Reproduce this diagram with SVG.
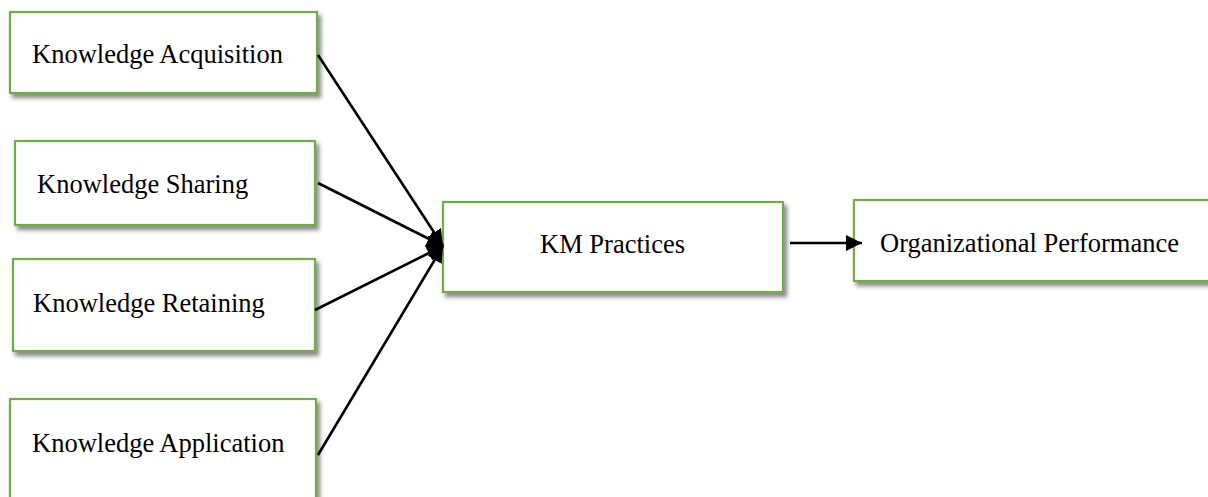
<svg xmlns="http://www.w3.org/2000/svg" width="1208" height="497" viewBox="0 0 1208 497">
<style>
.box{fill:#fff;stroke:#70AD47;stroke-width:2.2;filter:url(#sh)}
.t{font-family:"Liberation Serif","Times New Roman",serif;font-size:26.5px;fill:#000}
.c{stroke:#000;stroke-width:2.6;fill:none;marker-end:url(#ah)}
</style>
<defs>
<filter id="sh" x="-10%" y="-20%" width="130%" height="150%">
<feDropShadow dx="3" dy="4" stdDeviation="2" flood-color="#444" flood-opacity="0.65"/>
</filter>
<marker id="ah" viewBox="0 0 10 10" refX="10" refY="5" markerWidth="6.2" markerHeight="6.2" markerUnits="strokeWidth" orient="auto">
<path d="M0,0 L10,5 L0,10 z" fill="#000"/>
</marker>
</defs>
<g id="n1"><rect class="box" x="10" y="12" width="307" height="81"/><text class="t" x="32" y="63">Knowledge Acquisition</text></g>
<g id="n2"><rect class="box" x="15" y="141" width="300" height="84"/><text class="t" x="37" y="193">Knowledge Sharing</text></g>
<g id="n3"><rect class="box" x="13" y="259" width="302" height="92"/><text class="t" x="33" y="312">Knowledge Retaining</text></g>
<g id="n4"><rect class="box" x="10" y="399" width="306" height="115"/><text class="t" x="32" y="452">Knowledge Application</text></g>
<g id="km"><rect class="box" x="443" y="202" width="340" height="90"/><text class="t" x="540" y="253">KM Practices</text></g>
<g id="op"><rect class="box" x="854" y="200" width="370" height="81"/><text class="t" x="880" y="252">Organizational Performance</text></g>
<g id="connectors">
<line class="c" x1="318" y1="55" x2="443" y2="246"/>
<line class="c" x1="318" y1="183" x2="443" y2="246"/>
<line class="c" x1="315" y1="310" x2="443" y2="246"/>
<line class="c" x1="318" y1="455" x2="443" y2="246"/>
<line class="c" x1="790" y1="243" x2="862" y2="243"/>
</g>
</svg>
